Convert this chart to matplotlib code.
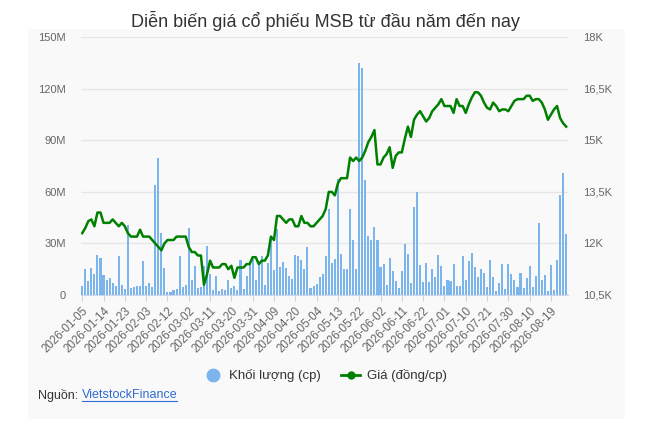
import matplotlib
matplotlib.use('Agg')
import numpy as np
import pandas as pd
from matplotlib import pyplot as plt
from matplotlib.lines import Line2D
from matplotlib.patches import Rectangle
from matplotlib.ticker import FixedLocator, FuncFormatter

plt.rcParams['font.family'] = ['Liberation Sans', 'DejaVu Sans']

# trading calendar (HOSE): weekdays without Tet and April/May holidays
holidays = ['2026-02-16', '2026-02-17', '2026-02-18', '2026-02-19', '2026-02-20',
            '2026-04-27', '2026-04-30', '2026-05-01']
dates = pd.bdate_range('2026-01-05', '2026-08-26', freq='C', holidays=holidays)
date_labels = [d.strftime('%Y-%m-%d') for d in dates]

# volume, million shares
volume = [5.5, 15, 8, 16, 12, 23, 21.5, 11.5, 8.5, 10,
          7, 5, 22.5, 6, 3.5, 41, 4, 4.5, 5.5, 5,
          20, 5, 7, 4.5, 64, 80, 36, 16, 2, 2,
          3, 3.5, 22.5, 4.5, 6, 39, 8.5, 17, 4, 4.5,
          17, 28.5, 12, 3.2, 11, 2.5, 3.5, 3, 8.5, 4,
          5.5, 3, 20.5, 3.3, 11.3, 19, 21, 8.5, 18, 22.5,
          6, 18.5, 32.6, 14.6, 38.7, 16.2, 19.1, 15.6, 11.1, 9.4,
          23.2, 22.6, 20.1, 15, 27.9, 4.3, 5.3, 6.4, 10.2, 12.1,
          22.9, 49.8, 18.5, 20.7, 67.5, 23.6, 15.4, 15.4, 50, 32,
          15, 135, 132, 67, 34.3, 31.8, 39.3, 32, 16.2, 17.8,
          5.6, 21.5, 14, 8, 4, 13.7, 29.7, 23.7, 7.1, 51,
          60, 17.3, 7.3, 18.9, 7.3, 14.9, 10.5, 23.1, 16.7, 5.1,
          8.5, 8.2, 17.8, 5.3, 5.3, 22.9, 8.8, 19.9, 24.6, 16.4,
          10.2, 15, 12.7, 4.7, 20.5, 10.2, 2.3, 7.2, 17.8, 3.3,
          17.8, 12.1, 8.6, 4.9, 13, 3.9, 9.8, 16.6, 4.5, 11.3,
          41.8, 8.6, 11.5, 2.1, 17.2, 2.7, 20.3, 58.2, 71.1, 35.5]

# closing price, thousand VND
price = [12.30, 12.45, 12.65, 12.70, 12.50, 12.90, 12.90, 12.60, 12.60, 12.60,
         12.70, 12.60, 12.50, 12.60, 12.50, 12.30, 12.20, 12.20, 12.20, 12.40,
         12.20, 12.20, 12.20, 12.10, 12.00, 11.90, 11.80, 12.00, 12.10, 12.10,
         12.10, 12.20, 12.20, 12.20, 12.20, 11.90, 11.75, 11.75, 11.65, 11.65,
         10.80, 11.10, 11.50, 11.30, 11.30, 11.30, 11.40, 11.40, 11.25, 11.35,
         11.00, 11.30, 11.30, 11.30, 11.40, 11.40, 11.60, 11.60, 11.40, 11.50,
         11.50, 11.65, 12.20, 12.10, 12.80, 12.80, 12.70, 12.60, 12.70, 12.70,
         12.50, 12.50, 12.80, 12.60, 12.60, 12.50, 12.50, 12.60, 12.70, 12.80,
         13.00, 13.50, 13.50, 13.40, 13.75, 13.90, 13.90, 13.90, 14.50, 14.40,
         14.50, 14.40, 14.50, 14.70, 14.95, 15.10, 15.30, 14.30, 14.30, 14.50,
         14.60, 14.80, 14.20, 14.55, 14.65, 14.65, 15.05, 15.40, 15.10, 15.60,
         15.75, 15.85, 15.70, 15.55, 15.65, 15.85, 15.95, 16.05, 16.20, 16.00,
         16.00, 16.00, 15.80, 16.20, 16.00, 16.00, 15.80, 16.05, 16.25, 16.40,
         16.40, 16.30, 16.10, 15.95, 15.90, 16.10, 16.00, 15.85, 15.90, 15.90,
         15.85, 16.00, 16.15, 16.20, 16.20, 16.20, 16.30, 16.30, 16.15, 16.20,
         16.20, 16.10, 15.90, 15.60, 15.75, 15.90, 16.00, 15.65, 15.50, 15.40]

vol_ticks = [0, 30, 60, 90, 120, 150]
price_ticks = [10.5, 12, 13.5, 15, 16.5, 18]

W, H = 650, 430
fig = plt.figure(figsize=(6.5, 4.3), dpi=100)

# light panel behind the chart
fig.patches.append(Rectangle((28 / W, 1 - 419 / H), 597 / W, 390 / H,
                             transform=fig.transFigure, facecolor='#f9f9f9',
                             edgecolor='none', zorder=-10))

fig.text(0.5, 1 - 21 / H, 'Diễn biến giá cổ phiếu MSB từ đầu năm đến nay',
         ha='center', va='center', fontsize=13, color='#333333')

ax = fig.add_axes([80.7 / W, 1 - 295 / H, 487 / W, 257.7 / H])
ax.patch.set_alpha(0)
x = np.arange(len(volume))
ax.bar(x, volume, width=0.68, color='#7cb5ec', zorder=2)
ax.set_xlim(-0.5, len(volume) - 0.5)
ax.set_ylim(0, 150)
ax.yaxis.set_major_locator(FixedLocator(vol_ticks))
ax.yaxis.set_major_formatter(FuncFormatter(lambda v, p: '0' if v == 0 else '%dM' % v))
ax.grid(axis='y', color='#e6e6e6', linewidth=1, zorder=0)
ax.set_axisbelow(True)
for s in ['top', 'right', 'left']:
    ax.spines[s].set_visible(False)
ax.spines['bottom'].set_color('#ccd6eb')
ax.tick_params(axis='y', length=0, pad=10.5, labelsize=8, labelcolor='#666666')

tick_idx = list(range(0, len(volume), 7))
ax.set_xticks(tick_idx)
ax.set_xticklabels([date_labels[i] for i in tick_idx], rotation=45, ha='right',
                   rotation_mode='anchor')
ax.tick_params(axis='x', length=4, color='#ccd6eb', pad=3, labelsize=8.3,
               labelcolor='#666666')

ax2 = ax.twinx()
ax2.plot(x, price, color='#008000', linewidth=1.8, zorder=3)
ax2.set_ylim(10.5, 18)
ax2.yaxis.set_major_locator(FixedLocator(price_ticks))
ax2.yaxis.set_major_formatter(FuncFormatter(
    lambda v, p: ('%g' % v).replace('.', ',') + 'K'))
for s in ax2.spines.values():
    s.set_visible(False)
ax2.tick_params(axis='y', length=0, pad=11, labelsize=8, labelcolor='#666666')

handles = [Line2D([], [], linestyle='none', marker='o', markersize=9,
                  color='#7cb5ec'),
           Line2D([], [], color='#008000', linewidth=2, marker='o', markersize=5)]
fig.legend(handles, ['Khối lượng (cp)', 'Giá (đồng/cp)'], loc='center',
           bbox_to_anchor=(0.5, 1 - 376 / H), ncol=2, frameon=False,
           fontsize=9.5, labelcolor='#333333', handlelength=1.4,
           handletextpad=0.5, columnspacing=1.6)

t1 = fig.text(38 / W, 1 - 395 / H, 'Nguồn: ', ha='left', va='center',
              fontsize=9, color='#333333')
renderer = fig.canvas.get_renderer()
bb = t1.get_window_extent(renderer)
t2 = fig.text(bb.x1 / W, 1 - 395 / H, 'VietstockFinance', ha='left',
              va='center', fontsize=9, color='#2f6bd0')
bb2 = t2.get_window_extent(renderer)
fig.lines.append(Line2D([bb2.x0 / W, bb2.x1 / W], [(bb2.y0 + 0.5) / H] * 2,
                        transform=fig.transFigure, color='#2f6bd0',
                        linewidth=0.8))

fig.savefig('out.png', dpi=100)
